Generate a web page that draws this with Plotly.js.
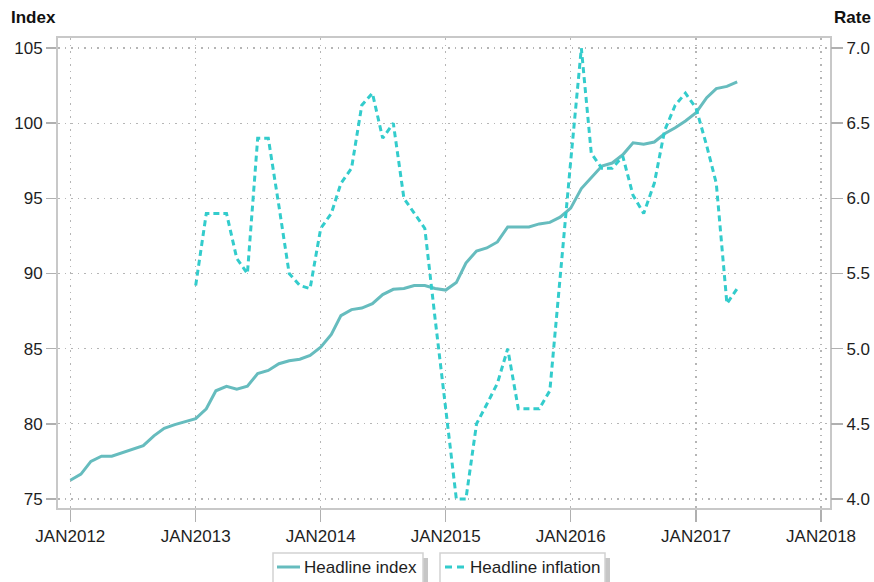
<!DOCTYPE html>
<html>
<head>
<meta charset="utf-8">
<script src="https://cdn.plot.ly/plotly-3.0.1.min.js"></script>
<style>html,body{margin:0;padding:0;background:#fff;}#chart{width:874px;height:582px;}</style>
</head>
<body>
<div id="chart"></div>
<script>
// Monthly data
const indexStart = [2012, 1];
const headlineIndex = [
  76.25, 76.65, 77.5, 77.85, 77.85, 78.1, 78.3, 78.55, 79.2, 79.7, 79.95, 80.15,
  80.35, 81.0, 82.2, 82.5, 82.3, 82.5, 83.35, 83.55, 84.0, 84.2, 84.3, 84.55,
  85.1, 85.95, 87.2, 87.6, 87.7, 88.0, 88.6, 88.95, 89.0, 89.2, 89.2, 89.0,
  88.9, 89.4, 90.7, 91.5, 91.7, 92.1, 93.1, 93.1, 93.1, 93.3, 93.4, 93.75,
  94.35, 95.65, 96.4, 97.15, 97.35, 97.9, 98.7, 98.6, 98.75, 99.3, 99.7, 100.15,
  100.7, 101.7, 102.3, 102.45, 102.75
];
const inflationStart = [2013, 1];
const headlineInflation = [
  5.42, 5.9, 5.9, 5.9, 5.6, 5.5, 6.4, 6.4, 5.95, 5.5, 5.42, 5.4,
  5.8, 5.9, 6.1, 6.2, 6.62, 6.7, 6.4, 6.5, 6.0, 5.9, 5.8, 5.2,
  4.58, 4.0, 4.0, 4.5, 4.63, 4.77, 5.0, 4.6, 4.6, 4.6, 4.72, 5.5,
  6.25, 7.0, 6.3, 6.2, 6.2, 6.28, 6.02, 5.9, 6.1, 6.45, 6.62, 6.7,
  6.6, 6.35, 6.1, 5.3, 5.4
];
const seriesNames = ['Headline index', 'Headline inflation'];
const xTickVals = ['2012-01-01','2013-01-01','2014-01-01','2015-01-01','2016-01-01','2017-01-01','2018-01-01'];
const xTickText = ['JAN2012','JAN2013','JAN2014','JAN2015','JAN2016','JAN2017','JAN2018'];
const leftTicks = [75, 80, 85, 90, 95, 100, 105];
const rightTicks = [4.0, 4.5, 5.0, 5.5, 6.0, 6.5, 7.0];

function months(start, n) {
  const out = [];
  let y = start[0], m = start[1];
  for (let i = 0; i < n; i++) {
    out.push(y + '-' + String(m).padStart(2, '0') + '-01');
    m++; if (m > 12) { m = 1; y++; }
  }
  return out;
}

const FONT = 'Liberation Sans, Arial, sans-serif';
const TXT = '#1e1e1e';
const GRID = '#b5b5b5';
const C_INDEX = '#66bcbe';
const C_INFL = '#33cccc';

const traces = [
  {
    x: months(indexStart, headlineIndex.length), y: headlineIndex,
    name: seriesNames[0], type: 'scatter', mode: 'lines',
    line: {color: C_INDEX, width: 3}, showlegend: false
  },
  {
    x: months(inflationStart, headlineInflation.length), y: headlineInflation,
    name: seriesNames[1], type: 'scatter', mode: 'lines', yaxis: 'y2',
    line: {color: C_INFL, width: 3, dash: '6px,4px'}, showlegend: false
  }
];

function px2x(p) { return (p - 58) / 772; }
function px2y(p) { return (508 - p) / 470; }

function legendBox(x0, x1) {
  return [
    {type: 'rect', xref: 'paper', yref: 'paper', layer: 'below',
     x0: px2x(x0 + 4), x1: px2x(x1 + 5), y0: px2y(598), y1: px2y(558),
     fillcolor: '#c6c6c6', line: {width: 0}},
    {type: 'rect', xref: 'paper', yref: 'paper', layer: 'below',
     x0: px2x(x0), x1: px2x(x1), y0: px2y(595), y1: px2y(553),
     fillcolor: '#ffffff', line: {color: '#d2d2d2', width: 1.5}}
  ];
}
const legendShapes = [].concat(
  legendBox(273, 423), legendBox(440, 605),
  [
    {type: 'line', xref: 'paper', yref: 'paper', x0: px2x(277), x1: px2x(300),
     y0: px2y(567), y1: px2y(567), line: {color: C_INDEX, width: 3}},
    {type: 'line', xref: 'paper', yref: 'paper', x0: px2x(445), x1: px2x(464),
     y0: px2y(567), y1: px2y(567), line: {color: C_INFL, width: 3, dash: '7px,5px'}}
  ]
);

const layout = {
  width: 874, height: 582,
  margin: {l: 58, r: 44, t: 38, b: 74, autoexpand: false},
  paper_bgcolor: '#fff', plot_bgcolor: '#fff',
  font: {family: FONT, size: 17, color: TXT},
  showlegend: false,
  xaxis: {
    type: 'date', range: ['2011-11-26', '2018-01-27'],
    tickvals: xTickVals, ticktext: xTickText,
    showgrid: true, gridcolor: GRID, griddash: '1.5px,5px', gridwidth: 1.2,
    showline: true, mirror: true, linecolor: '#c8c8c8', linewidth: 2,
    ticks: 'outside', ticklen: 12, tickcolor: '#b0b0b0', tickwidth: 1.5,
    tickfont: {family: FONT, size: 17, color: TXT}, zeroline: false
  },
  yaxis: {
    range: [74.4, 105.67], tickvals: leftTicks,
    showgrid: true, gridcolor: GRID, griddash: '1.5px,5px', gridwidth: 1.2,
    showline: true, mirror: true, linecolor: '#c8c8c8', linewidth: 2,
    ticks: 'outside', ticklen: 10, tickcolor: '#b0b0b0', tickwidth: 1.5,
    tickfont: {family: FONT, size: 17, color: TXT}, zeroline: false
  },
  yaxis2: {
    overlaying: 'y', side: 'right', range: [3.94, 7.067],
    tickvals: rightTicks, tickformat: '.1f',
    showgrid: false, showline: false, zeroline: false,
    ticks: 'outside', ticklen: 12, tickcolor: '#b0b0b0', tickwidth: 1.5,
    tickfont: {family: FONT, size: 17, color: TXT}
  },
  shapes: legendShapes,
  annotations: [
    {text: '<b>Index</b>', xref: 'paper', yref: 'paper', x: px2x(9), y: px2y(17),
     xanchor: 'left', yanchor: 'middle', showarrow: false,
     font: {family: FONT, size: 17, color: '#111'}},
    {text: '<b>Rate</b>', xref: 'paper', yref: 'paper', x: px2x(873), y: px2y(17),
     xanchor: 'right', yanchor: 'middle', showarrow: false,
     font: {family: FONT, size: 17, color: '#111'}},
    {text: seriesNames[0], xref: 'paper', yref: 'paper', x: px2x(302), y: px2y(567),
     xanchor: 'left', yanchor: 'middle', showarrow: false,
     font: {family: FONT, size: 17, color: TXT}},
    {text: seriesNames[1], xref: 'paper', yref: 'paper', x: px2x(468), y: px2y(567),
     xanchor: 'left', yanchor: 'middle', showarrow: false,
     font: {family: FONT, size: 17, color: TXT}}
  ]
};

Plotly.newPlot('chart', traces, layout, {staticPlot: true, displayModeBar: false});
</script>
</body>
</html>
